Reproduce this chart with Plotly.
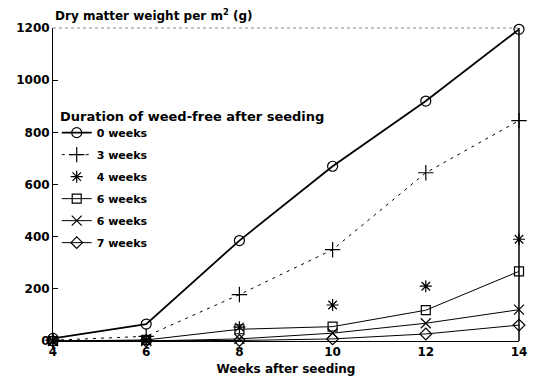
import plotly.graph_objects as go

weeks = [4, 6, 8, 10, 12, 14]
w0 = [10, 65, 385, 670, 920, 1195]
w3 = [3, 18, 178, 350, 645, 845]
w4 = [0, 5, 53, 138, 210, 390]
w5 = [0, 4, 45, 55, 118, 267]
w6 = [0, 0, 8, 30, 68, 120]
w7 = [0, 0, 2, 8, 27, 61]
y_ticks = [0, 200, 400, 600, 800, 1000, 1200]

series = [
    ("0 weeks", w0, "lines+markers", "circle-open", 10, "solid", 1.8),
    ("3 weeks", w3, "lines+markers", "cross-thin-open", 11, "3px,5px", 1),
    ("4 weeks", w4, "markers", "asterisk-open", 10, "solid", 1),
    ("6 weeks", w5, "lines+markers", "square-open", 9, "solid", 1),
    ("6 weeks", w6, "lines+markers", "x-thin-open", 10, "solid", 1),
    ("7 weeks", w7, "lines+markers", "diamond-open", 9, "solid", 1),
]

fig = go.Figure()
for i, (name, ys, mode, sym, sz, dash, lw) in enumerate(series):
    fig.add_trace(go.Scatter(
        x=weeks, y=ys, name=name, mode=mode, legendgroup=f"g{i}",
        line=dict(color="black", width=lw, dash=dash),
        marker=dict(symbol=sym, size=sz, color="black", line=dict(color="black", width=1.2)),
        cliponaxis=False,
    ))

ff = "DejaVu Sans, Liberation Sans, sans-serif"
fig.update_layout(
    width=539, height=386,
    margin=dict(l=53, r=14, t=28, b=44),
    paper_bgcolor="white", plot_bgcolor="white",
    font=dict(family=ff, color="black", size=12),
    showlegend=True,
    legend=dict(
        x=0.008, y=0.712, xanchor="left", yanchor="top",
        bgcolor="rgba(0,0,0,0)",
        font=dict(size=11, family=ff, weight="bold"),
        tracegroupgap=3,
    ),
    xaxis=dict(
        range=[4, 14], tickvals=weeks, showgrid=False, zeroline=False,
        showline=True, linecolor="black", linewidth=1,
        ticks="", tickfont=dict(size=12, family=ff, weight="bold"),
        title=dict(text="Weeks after seeding", font=dict(size=12, family=ff, weight="bold"), standoff=6),
    ),
    yaxis=dict(
        range=[0, 1200], tickvals=y_ticks,
        showgrid=False, zeroline=False,
        showline=True, linecolor="black", linewidth=1,
        ticks="inside", ticklen=5, tickcolor="black",
        tickfont=dict(size=12, family=ff, weight="bold"),
    ),
)
fig.add_shape(type="line", xref="paper", yref="paper", x0=0, x1=1, y0=1, y1=1,
              line=dict(color="#888", width=1, dash="dot"))
fig.add_shape(type="line", xref="paper", yref="paper", x0=1, x1=1, y0=0, y1=1,
              line=dict(color="black", width=1.5))
fig.add_annotation(xref="paper", yref="paper", x=0, y=1, yshift=3, xanchor="left", yanchor="bottom",
                   text="Dry matter weight per m<sup>2</sup> (g)", showarrow=False,
                   font=dict(size=12, family=ff, weight="bold"))
# legend title
fig.add_annotation(xref="paper", yref="paper", x=0.01, y=1 - (117 - 28) / 314, xanchor="left", yanchor="middle",
                   text="Duration of weed-free after seeding", showarrow=False,
                   font=dict(size=13, family=ff, weight="bold"))

fig.write_html("out.html", config={"displayModeBar": False},
               post_script="document.body.style.margin='0';")
